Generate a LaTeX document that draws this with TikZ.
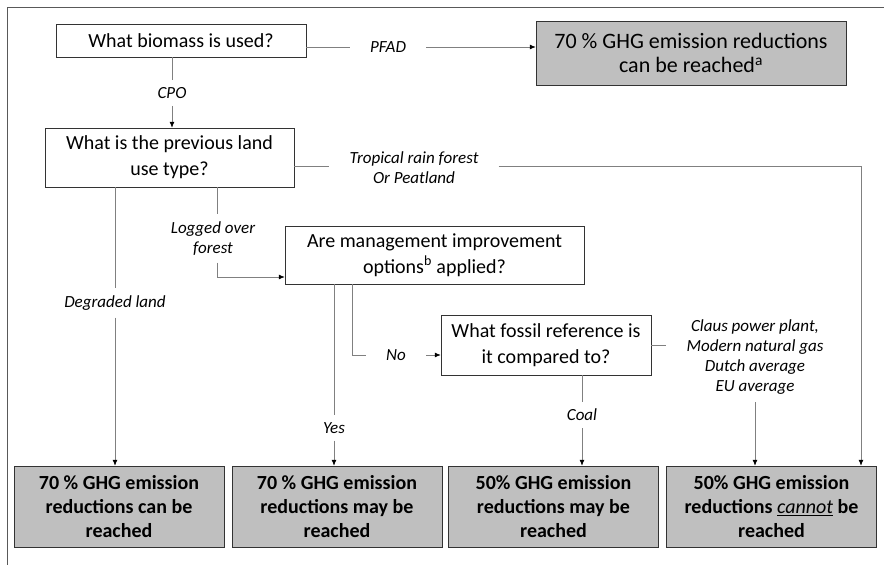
\documentclass[tikz,border=0pt]{standalone}
\usepackage{fontspec}
\setmainfont{Carlito}
\usetikzlibrary{arrows.meta}
\tikzset{
  question/.style={draw=black!80, fill=white, align=center, font=\fontsize{20}{26}\selectfont, inner sep=2pt},
  result/.style={draw=black!80, fill=black!25, align=center, font=\fontsize{20}{24}\selectfont\bfseries, minimum width=210pt, minimum height=81pt},
  choice/.style={align=center, font=\fontsize{17}{20}\selectfont\itshape, inner xsep=20pt, inner ysep=7pt},
  link/.style={draw=black!50, line width=0.8pt},
  goto/.style={link, -{Latex[black,length=6pt,width=5pt]}}
}
\begin{document}
\begin{tikzpicture}[x=1pt,y=-1pt]
\useasboundingbox (0,0) rectangle (884,565);
\draw[black!65, line width=1pt] (884,7) -- (7,7) -- (7,565);
\node[question, minimum width=250pt, minimum height=33pt] (Biomass) at (181,40.5) {What biomass is used?};
\node[result, font=\fontsize{22}{24}\selectfont, minimum width=310pt, minimum height=64pt] (ResultA) at (691,53) {70 \% GHG emission reductions\\can be reached\textsuperscript{a}};
\node[question, minimum width=249pt, minimum height=59pt] (LandUse) at (169.5,157.5) {What is the previous land\\use type?};
\node[question, minimum width=299pt, minimum height=58pt] (Management) at (434.5,255) {Are management improvement\\options\textsuperscript{b} applied?};
\node[question, minimum width=210pt, minimum height=60pt] (Fossil) at (546,345) {What fossil reference is\\it compared to?};
\node[result] (ResultB) at (119,506.5) {70 \% GHG emission\\reductions can be\\reached};
\node[result] (ResultC) at (337,506.5) {70 \% GHG emission\\reductions may be\\reached};
\node[result] (ResultD) at (553.5,506.5) {50\% GHG emission\\reductions may be\\reached};
\node[result] (ResultE) at (771.5,506.5) {50\% GHG emission\\reductions \underline{\textmd{\textit{cannot}}} be\\reached};
\node[choice] (PFAD) at (388,47) {PFAD};
\node[choice] (CPO) at (172,93) {CPO};
\node[choice] (Tropical) at (414,168) {Tropical rain forest\\Or Peatland};
\node[choice] (Degraded) at (115,303) {Degraded land};
\node[choice] (Logged) at (213,238.5) {Logged over\\forest};
\node[choice] (Yes) at (334,428) {Yes};
\node[choice] (No) at (396,355) {No};
\node[choice] (Coal) at (582,415) {Coal};
\node[choice] (Claus) at (755,357.5) {Claus power plant,\\Modern natural gas\\Dutch average\\EU average};
\coordinate (TropicalTurn) at (861,166);
\coordinate (LoggedTurn) at (217,277);
\coordinate (NoTurn) at (352,355);
\draw[link] (Biomass.east |- PFAD) -- (PFAD);
\draw[goto] (PFAD) -- (PFAD -| ResultA.west);
\draw[link] (Biomass.south -| CPO) -- (CPO);
\draw[goto] (CPO) -- (CPO |- LandUse.north);
\draw[link] (LandUse.east |- TropicalTurn) -- (Tropical.west |- TropicalTurn);
\draw[goto] (Tropical.east |- TropicalTurn) -- (TropicalTurn) -- (TropicalTurn |- ResultE.north);
\draw[link] (LandUse.south -| Degraded) -- (Degraded);
\draw[goto] (Degraded) -- (Degraded |- ResultB.north);
\draw[link] (LandUse.south -| LoggedTurn) -- (LoggedTurn |- Logged.north);
\draw[goto] (LoggedTurn |- Logged.south) -- (LoggedTurn) -- (LoggedTurn -| Management.west);
\draw[link] (Management.south -| Yes) -- (Yes);
\draw[goto] (Yes) -- (Yes |- ResultC.north);
\draw[link] (Management.south -| NoTurn) -- (NoTurn) -- (No);
\draw[goto] (No) -- (No -| Fossil.west);
\draw[link] (Fossil.south -| Coal) -- (Coal);
\draw[goto] (Coal) -- (Coal |- ResultD.north);
\draw[link] (Fossil.east) -- (Fossil.east -| Claus.west);
\draw[goto] (Claus) -- (Claus |- ResultE.north);
\end{tikzpicture}
\end{document}
